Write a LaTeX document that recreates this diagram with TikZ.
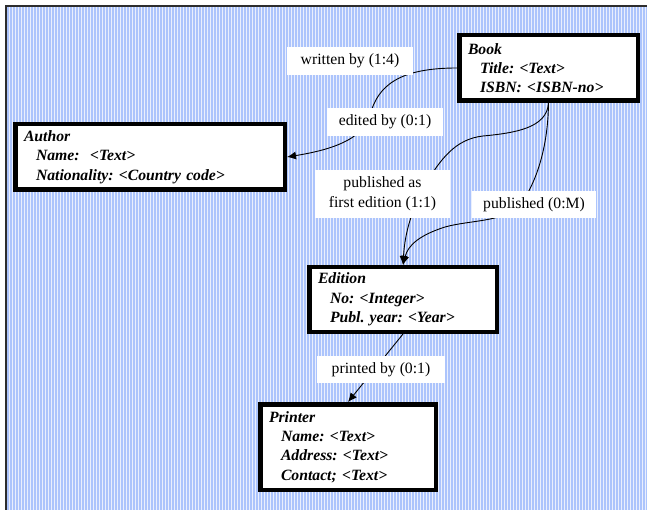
\documentclass[tikz,border=0pt]{standalone}
\usepackage{fontspec}
\setmainfont{Liberation Serif}
\usetikzlibrary{arrows.meta}
\definecolor{paper}{RGB}{234,239,253}
\definecolor{stripe}{RGB}{172,196,252}
\definecolor{framegray}{RGB}{45,45,45}
\tikzset{
  entity/.style={draw=black, line width=4.5pt, fill=white, inner xsep=8.75pt,
    inner ysep=0pt, align=left,
    font=\fontsize{15.7}{19.3}\selectfont\bfseries\itshape\frenchspacing},
  relabel/.style={fill=white, inner sep=0pt, align=center,
    font=\fontsize{15.7}{19.8}\selectfont\frenchspacing},
  link/.style={draw=black, line width=0.9pt},
  arrowlink/.style={link, -{Latex[length=9pt,width=8pt]}},
}
\newcommand{\attrindent}{\hspace*{12pt}}
\begin{document}
\begin{tikzpicture}[x=1pt, y=-1pt]
\useasboundingbox (0,0) rectangle (647,510);

% striped canvas with its frame
\fill[paper] (6,6) rectangle (647,510);
\foreach \x in {8,11,...,647}
  \draw[stripe, line width=1.5pt] (\x,6.6) -- (\x,510);
\draw[framegray, line width=1.2pt] (6,510) -- (6,6) -- (647,6);

% entities
\node[entity, text width=161pt, minimum height=65.5pt] (book) at (548.5,68)
  {Book\\\attrindent Title: <Text>\\\attrindent ISBN: <ISBN-no>};
\node[entity, text width=252pt, minimum height=65.5pt] (author) at (150,157)
  {Author\\\attrindent Name:\ \ <Text>\\\attrindent Nationality: <Country code>};
\node[entity, text width=170pt, minimum height=64.5pt] (edition) at (403,299.5)
  {Edition\\\attrindent No: <Integer>\\\attrindent Publ. year: <Year>};
\node[entity, text width=158pt, minimum height=85.5pt] (printer) at (348,447)
  {Printer\\\attrindent Name: <Text>\\\attrindent Address: <Text>\\\attrindent Contact; <Text>};

% relationships
\draw[arrowlink] (book.west) .. controls (400,68) and (378,85) .. (370,115)
  .. controls (363,140) and (330,150) .. (author.east);
\draw[arrowlink] (book.south) .. controls (547,128) and (515,133) .. (483,136)
  .. controls (455,139) and (440,160) .. (425,185)
  .. controls (413,208) and (405,230) .. (edition.north);
\draw[arrowlink] (book.south) .. controls (548,150) and (535,185) .. (520,205)
  .. controls (505,222) and (470,220) .. (445,227)
  .. controls (420,235) and (408,245) .. (edition.north);
\draw[arrowlink] (edition.south) -- (printer.north);

% relationship labels
\node[relabel, minimum width=126pt, minimum height=28pt] (lwritten) at (350,61) {written by (1:4)};
\node[relabel, minimum width=116pt, minimum height=28pt] (ledited) at (385,122) {edited by (0:1)};
\node[relabel, minimum width=135pt, minimum height=48pt] (lfirst) at (382.5,194) {published as\\first edition (1:1)};
\node[relabel, minimum width=124pt, minimum height=27pt] (lpub) at (534,204.5) {published (0:M)};
\node[relabel, minimum width=128pt, minimum height=27pt] (lprinted) at (381,369.5) {printed by (0:1)};
\end{tikzpicture}
\end{document}
